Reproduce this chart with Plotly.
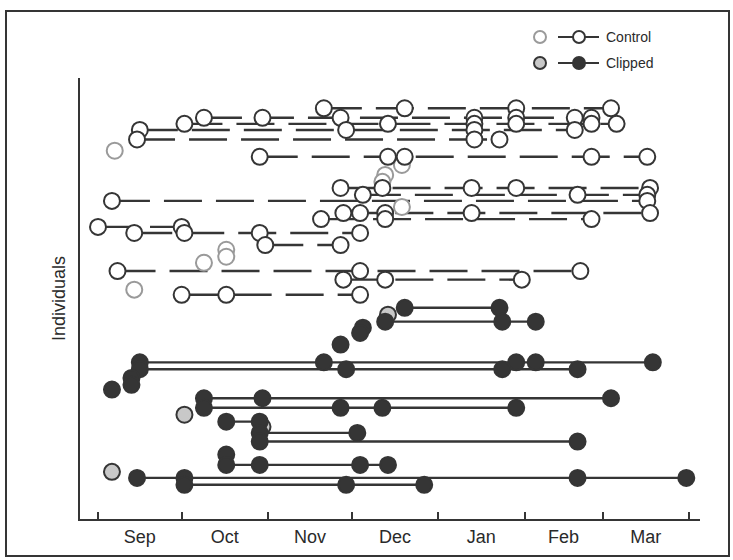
import plotly.graph_objects as go

DARK = "#353535"
LIGHT_OUT = "#9a9a9a"
LIGHT_FILL = "#c8c8c8"

# ---------------- data ----------------
# Control individuals (recaptured, dashed lines): row position and capture dates
control_rows = [94.6, 92.4, 91.0, 89.6, 87.4, 83.4, 76.2, 74.6, 73.2, 70.4,
                69.0, 67.2, 65.8, 63.0, 57.0, 55.0, 51.5]
control_dates = [
    ["2008-11-21", "2008-12-20", "2009-01-29", "2009-03-04"],
    ["2008-10-09", "2008-10-30", "2008-11-27", "2009-01-14", "2009-01-29", "2009-02-19", "2009-02-25"],
    ["2008-10-02", "2008-12-14", "2009-01-14", "2009-01-29", "2009-02-25", "2009-03-06"],
    ["2008-09-16", "2008-11-29", "2009-01-14", "2009-02-19"],
    ["2008-09-15", "2009-01-14", "2009-01-23"],
    ["2008-10-29", "2008-12-14", "2008-12-20", "2009-02-25", "2009-03-17"],
    ["2008-11-27", "2008-12-12", "2009-01-13", "2009-01-29", "2009-03-18"],
    ["2008-12-05", "2009-02-20", "2009-03-17"],
    ["2008-09-06", "2009-03-17"],
    ["2008-11-28", "2008-12-04", "2008-12-13", "2009-01-13", "2009-03-18"],
    ["2008-11-20", "2008-12-13", "2009-02-25"],
    ["2008-09-01", "2008-10-01"],
    ["2008-09-14", "2008-10-02", "2008-10-29", "2008-12-04"],
    ["2008-10-31", "2008-11-27"],
    ["2008-09-08", "2008-12-04", "2009-02-21"],
    ["2008-11-28", "2008-12-13", "2009-01-31"],
    ["2008-10-01", "2008-10-17", "2008-12-04"],
]
# Control individuals captured once
control_single_rows = [84.8, 81.5, 79.2, 77.6, 71.8, 61.9, 60.3, 58.9, 52.7]
control_single_dates = ["2008-09-07", "2008-12-19", "2008-12-13", "2008-12-12", "2008-12-19",
                        "2008-10-17", "2008-10-17", "2008-10-09", "2008-09-14"]

# Clipped individuals (solid lines)
clipped_rows = [48.5, 45.3, 43.9, 42.7, 40.0, 35.9, 34.3, 32.3, 30.7, 29.6,
                27.6, 25.4, 22.2, 19.6, 17.6, 14.6, 12.2, 9.2, 7.6]
clipped_dates = [
    ["2008-12-20", "2009-01-23"],
    ["2008-12-13", "2009-01-24", "2009-02-05"],
    ["2008-12-05"],
    ["2008-12-04"],
    ["2008-11-27"],
    ["2008-09-16", "2008-11-21", "2009-01-29", "2009-02-05", "2009-03-19"],
    ["2008-09-16", "2008-11-29", "2009-01-24", "2009-02-20"],
    ["2008-09-13"],
    ["2008-09-13"],
    ["2008-09-06"],
    ["2008-10-09", "2008-10-30", "2009-03-04"],
    ["2008-10-09", "2008-11-27", "2008-12-12", "2009-01-29"],
    ["2008-10-17", "2008-10-29"],
    ["2008-10-29", "2008-12-03"],
    ["2008-10-29", "2009-02-20"],
    ["2008-10-17"],
    ["2008-10-17", "2008-10-29", "2008-12-04", "2008-12-14"],
    ["2008-09-15", "2008-10-02", "2009-02-20", "2009-03-31"],
    ["2008-10-02", "2008-11-29", "2008-12-27"],
]
clipped_single_rows = [46.9, 23.8, 21.0, 10.6]
clipped_single_dates = ["2008-12-14", "2008-10-02", "2008-10-30", "2008-09-06"]

month_tick0 = "2008-09-01"
x_range = ["2008-08-25 13:00", "2009-04-04 22:00"]
y_range = [-0.3, 101.6]

W, H = 733, 560

# ---------------- figure ----------------
fig = go.Figure()


def flatten(rows, dates):
    xs, ys, lx, ly = [], [], [], []
    for r, ds in zip(rows, dates):
        xs += ds
        ys += [r] * len(ds)
        if len(ds) > 1:
            lx += ds + [None]
            ly += [r] * len(ds) + [None]
    return xs, ys, lx, ly


cx, cy, clx, cly = flatten(control_rows, control_dates)
kx, ky, klx, kly = flatten(clipped_rows, clipped_dates)

# lines first (behind all markers)
fig.add_trace(go.Scatter(x=clx, y=cly, mode="lines", connectgaps=False,
                         line=dict(color=DARK, width=2.4, dash="38px,14px"),
                         hoverinfo="skip", showlegend=False))
fig.add_trace(go.Scatter(x=klx, y=kly, mode="lines", connectgaps=False,
                         line=dict(color=DARK, width=2.4),
                         hoverinfo="skip", showlegend=False))

# markers
fig.add_trace(go.Scatter(x=control_single_dates, y=control_single_rows, mode="markers",
                         marker=dict(size=16, color="white", line=dict(color=LIGHT_OUT, width=2)),
                         showlegend=False))
fig.add_trace(go.Scatter(x=cx, y=cy, mode="markers",
                         marker=dict(size=16, color="white", line=dict(color=DARK, width=2)),
                         showlegend=False))
fig.add_trace(go.Scatter(x=clipped_single_dates, y=clipped_single_rows, mode="markers",
                         marker=dict(size=16, color=LIGHT_FILL, line=dict(color=DARK, width=2)),
                         showlegend=False))
fig.add_trace(go.Scatter(x=kx, y=ky, mode="markers",
                         marker=dict(size=16, color=DARK, line=dict(color=DARK, width=2)),
                         showlegend=False))

# ---------------- custom legend (overlay axes in pixel space) ----------------
leg_rows = [37, 63]
leg_names = ["Control", "Clipped"]
leg_single_fill = ["white", LIGHT_FILL]
leg_single_line = [LIGHT_OUT, DARK]
leg_multi_fill = ["white", DARK]
for yy, name, sf, sl, mf in zip(leg_rows, leg_names, leg_single_fill, leg_single_line, leg_multi_fill):
    fig.add_trace(go.Scatter(x=[540], y=[yy], mode="markers", xaxis="x2", yaxis="y2",
                             marker=dict(size=12, color=sf, line=dict(color=sl, width=2)),
                             showlegend=False, hoverinfo="skip"))
    fig.add_trace(go.Scatter(x=[558, 599], y=[yy, yy], mode="lines", xaxis="x2", yaxis="y2",
                             line=dict(color=DARK, width=2), showlegend=False, hoverinfo="skip"))
    fig.add_trace(go.Scatter(x=[579], y=[yy], mode="markers", xaxis="x2", yaxis="y2",
                             marker=dict(size=12, color=mf, line=dict(color=DARK, width=2)),
                             showlegend=False, hoverinfo="skip"))
    fig.add_annotation(x=604, y=yy, xref="x2", yref="y2", text=name, showarrow=False,
                       xanchor="left", yanchor="middle",
                       font=dict(family="Liberation Sans, Arial", size=14, color="#2a2a2a"))

fig.update_layout(
    width=W, height=H,
    margin=dict(l=0, r=0, t=0, b=0),
    paper_bgcolor="white", plot_bgcolor="rgba(0,0,0,0)",
    font=dict(family="Liberation Sans, Arial", color="#2a2a2a"),
    xaxis=dict(domain=[80 / W, 700 / W], type="date", range=x_range,
               tick0=month_tick0, dtick="M1", tickformat="%b", ticklabelmode="period",
               ticks="inside", ticklen=7, tickwidth=1.5, tickcolor=DARK,
               showline=True, linecolor=DARK, linewidth=2, showgrid=False, zeroline=False,
               tickfont=dict(size=18, family="Liberation Sans, Arial", color="#2a2a2a")),
    yaxis=dict(domain=[1 - 519 / H, 1 - 78 / H], range=y_range,
               showline=True, linecolor=DARK, linewidth=2, showgrid=False, zeroline=False,
               showticklabels=False, ticks="",
               title=dict(text="Individuals", standoff=8,
                          font=dict(size=18, family="Liberation Sans, Arial", color="#2a2a2a"))),
    xaxis2=dict(domain=[0, 1], range=[0, W], visible=False, anchor="y2", fixedrange=True),
    yaxis2=dict(domain=[0, 1], range=[H, 0], visible=False, anchor="x2", fixedrange=True),
    shapes=[dict(type="rect", xref="paper", yref="paper",
                 x0=6 / W, x1=729 / W, y0=1 - 556 / H, y1=1 - 11 / H,
                 line=dict(color=DARK, width=2), fillcolor="rgba(0,0,0,0)")],
)

fig.write_html("out.html")
